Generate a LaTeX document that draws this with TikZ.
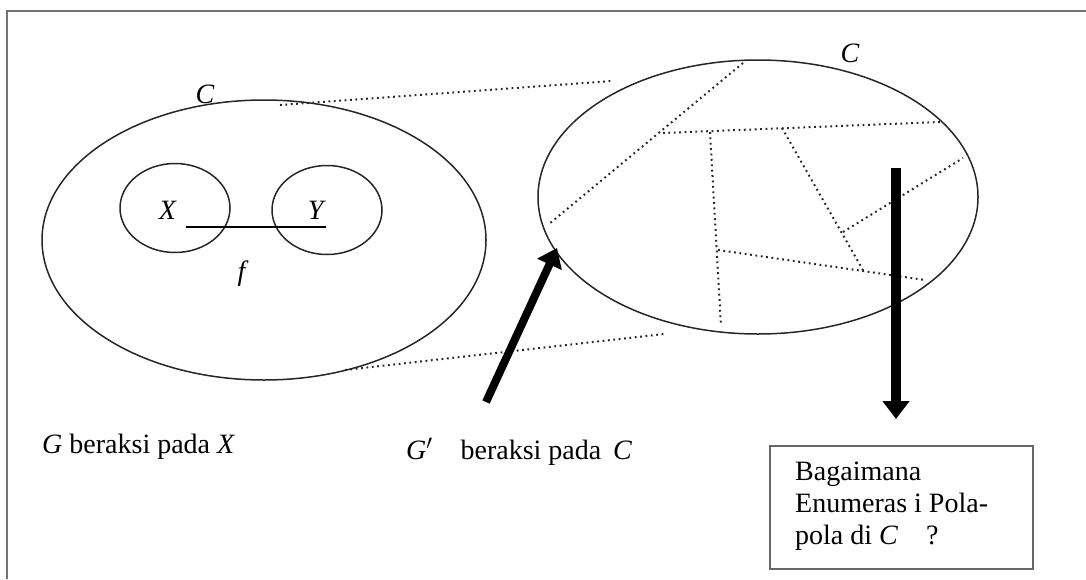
\documentclass[tikz,border=0pt]{standalone}
\usepackage{fontspec}
\setmainfont{Liberation Serif}
\usetikzlibrary{shapes.geometric,arrows.meta}
\begin{document}
\begin{tikzpicture}[x=1pt,y=-1pt,
  curve/.style={draw=black!85,line width=1.5pt},
  dotline/.style={draw=black!85,line width=2pt,dash pattern=on 1.8pt off 3.6pt},
  lbl/.style={font=\fontsize{28}{32}\selectfont,inner sep=0pt,anchor=base west},
  fatarrow/.style={line width=8pt,-{Triangle[length=18pt,width=26pt]}},
  framecol/.style={draw=black!55,line width=2.6pt}]
\useasboundingbox (0,0) rectangle (1086,579);
% outer frame (cropped)
\draw[framecol] (7,579) -- (7,11) -- (1086,11);
% left ellipse and circles
\node[ellipse,curve,minimum width=444pt,minimum height=280pt,inner sep=0pt] (E1) at (264,240) {};
\node[ellipse,curve,minimum width=110pt,minimum height=89pt,inner sep=0pt] (CX) at (175,208) {};
\node[ellipse,curve,minimum width=110pt,minimum height=89pt,inner sep=0pt] (CY) at (327,210) {};
\node[lbl,anchor=center] (lX) at (168,210) {\textit{X}};
\node[lbl,anchor=center] (lY) at (317,210) {\textit{Y}};
\node[lbl,anchor=center] (lf) at (243,274) {\textit{f}};
\node[lbl,anchor=center] (lC1) at (205,94) {\textit{C}};
\coordinate (f1) at (186,227);
\coordinate (f2) at (326,227);
\draw[line width=1.6pt] (f1) -- (f2);
% right ellipse
\node[ellipse,curve,minimum width=440pt,minimum height=274pt,inner sep=0pt] (E2) at (758,197) {};
\node[lbl,anchor=center] (lC2) at (850,53) {\textit{C}};
% zoom lines
\coordinate (z1a) at (280,105); \coordinate (z1b) at (612,81);
\coordinate (z2a) at (345,370); \coordinate (z2b) at (664,334);
\draw[dotline] (z1a) -- (z1b);
\draw[dotline] (z2a) -- (z2b);
% partition lines inside right ellipse
\coordinate (p1) at (743,63);
\coordinate (p2) at (549,224);
\coordinate (p3) at (663,133);
\coordinate (p4) at (940,122);
\coordinate (p5) at (710,132);
\coordinate (p6) at (721,326);
\coordinate (p7) at (782,128);
\coordinate (p8) at (864,272);
\coordinate (p9) at (843,232);
\coordinate (p10) at (963,158);
\coordinate (p11) at (718,250);
\coordinate (p12) at (925,280);
\draw[dotline] (p1) -- (p2);
\draw[dotline] (p3) -- (p4);
\draw[dotline] (p5) -- (p6);
\draw[dotline] (p7) -- (p8);
\draw[dotline] (p9) -- (p10);
\draw[dotline] (p11) -- (p12);
% arrows
\coordinate (a1s) at (486,402);
\coordinate (a1e) at (557,248);
\draw[fatarrow] (a1s) -- (a1e);
\coordinate (a2s) at (896,168);
\coordinate (a2e) at (896,419);
\draw[fatarrow,line width=10pt] (a2s) -- (a2e);
% bottom labels
\node[lbl] (g1) at (42,453) {\textit{G} beraksi pada \textit{X}};
\node[lbl] (g2) at (406,459) {\textit{G}$'$\quad beraksi pada\, \textit{C}};
% question box
\draw[draw=black!60,line width=2pt] (770,446) rectangle (1033,569);
\node[lbl,align=left,anchor=north west] (q) at (795,462) {Bagaimana\\Enumeras i Pola-\\pola di \textit{C}\quad ?};
\end{tikzpicture}
\end{document}
